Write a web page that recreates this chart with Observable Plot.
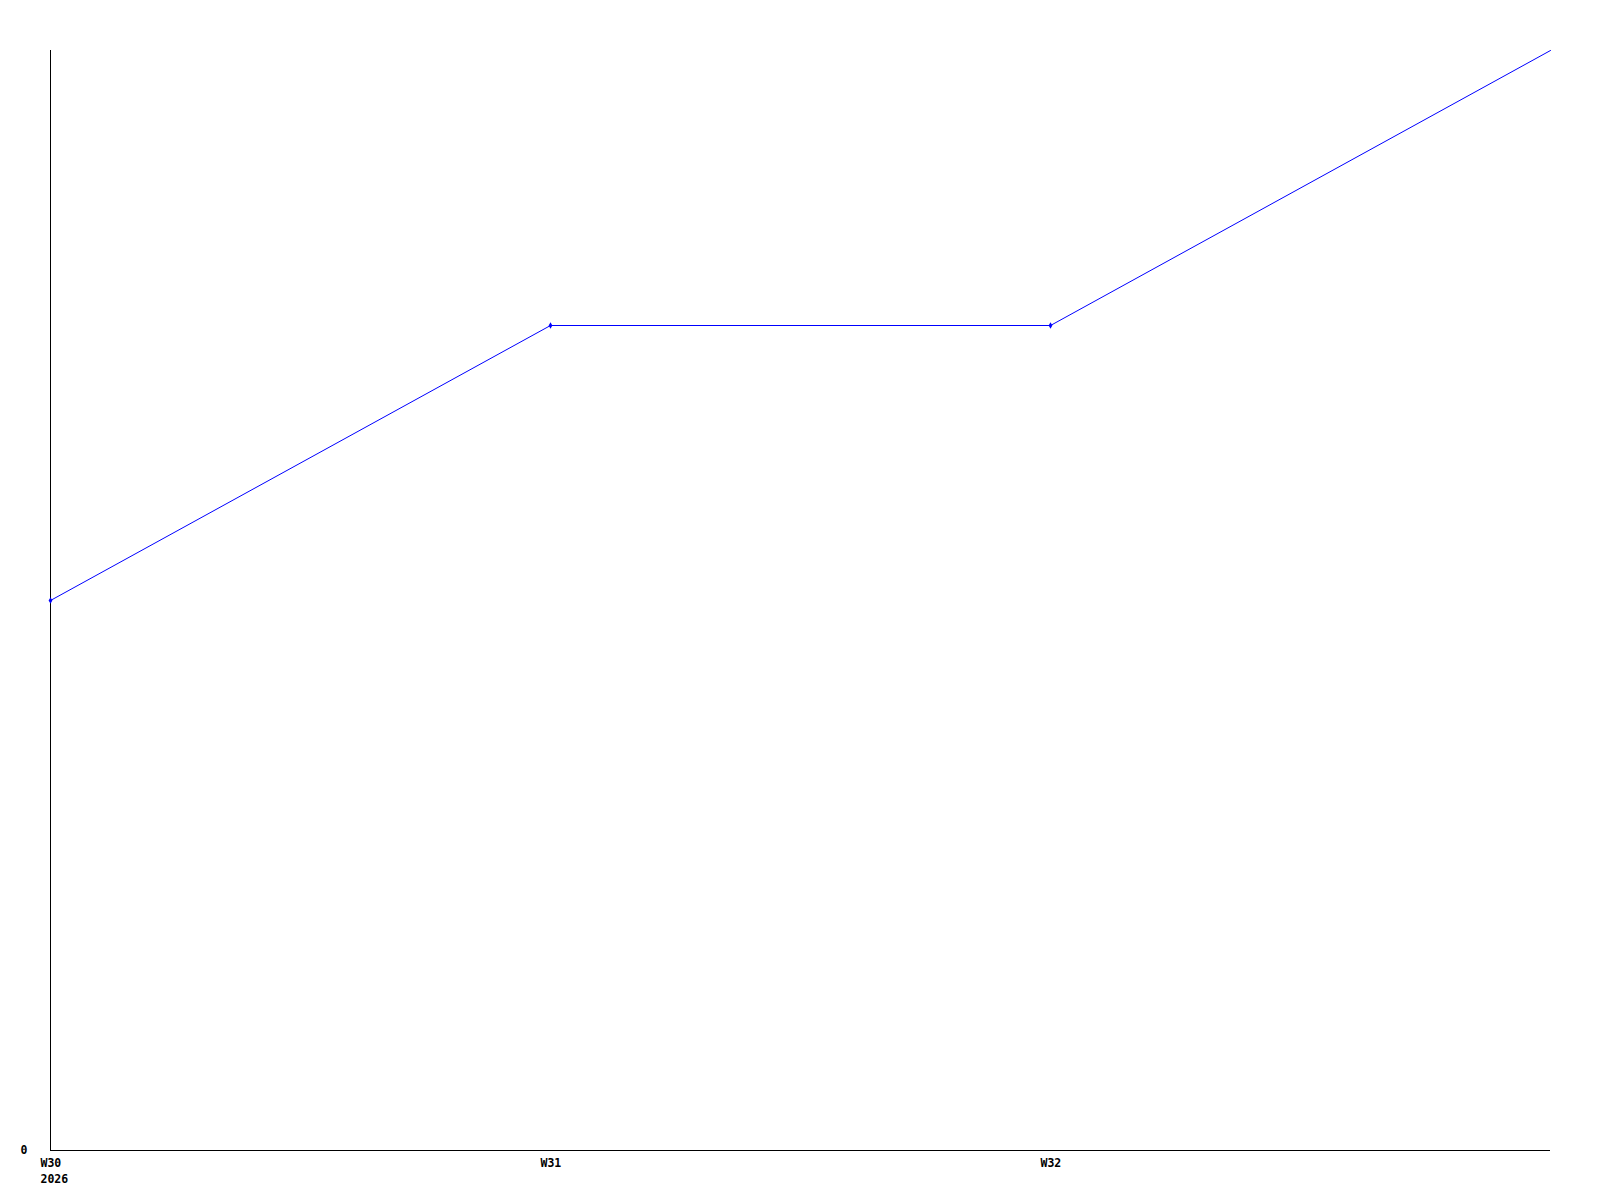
<!DOCTYPE html>
<html>
<head>
<meta charset="utf-8">
<script src="https://cdn.jsdelivr.net/npm/d3@7"></script>
<script src="https://cdn.jsdelivr.net/npm/@observablehq/plot@0.6"></script>
<style>
  html, body { margin: 0; padding: 0; background: #fff; }
  #chart svg { display: block; }
</style>
</head>
<body>
<div id="chart"></div>
<script>
// Data
const weeks = [30, 31, 32, 33];
const values = [2, 3, 3, 4];
const hasMarker = [true, true, true, false];
const tickWeeks = [30, 31, 32];
const tickLabels = ["W30\n2026", "W31", "W32"];
const yTicks = [0];

const data = weeks.map((w, i) => ({week: w, value: values[i], marker: hasMarker[i]}));
const labelOf = new Map(tickWeeks.map((w, i) => [w, tickLabels[i]]));

const chart = Plot.plot({
  width: 1600,
  height: 1200,
  marginLeft: 50,
  marginRight: 50,
  marginTop: 50,
  marginBottom: 50,
  style: {
    fontFamily: "'DejaVu Sans Mono', monospace",
    fontSize: "11.5px",
    fontWeight: "bold",
    color: "#000",
    background: "#fff"
  },
  x: {domain: [30, 33]},
  y: {domain: [0, 4]},
  marks: [
    Plot.axisX({
      ticks: tickWeeks,
      tickFormat: d => labelOf.get(d),
      tickSize: 0,
      tickPadding: 6,
      lineHeight: 1.33,
      textAnchor: "start",
      dx: -10,
      label: null
    }),
    Plot.axisY({
      ticks: yTicks,
      tickFormat: d => String(d),
      tickSize: 0,
      tickPadding: 23,
      label: null
    }),
    Plot.ruleY([0], {stroke: "#000", strokeWidth: 1}),
    Plot.ruleX([30], {stroke: "#000", strokeWidth: 1}),
    Plot.line(data, {x: "week", y: "value", stroke: "#0000ff", strokeWidth: 1}),
    Plot.dot(data.filter(d => d.marker), {x: "week", y: "value", r: 2, fill: "#0000ff", stroke: "none", symbol: "diamond"})
  ]
});
document.getElementById("chart").appendChild(chart);
</script>
</body>
</html>
